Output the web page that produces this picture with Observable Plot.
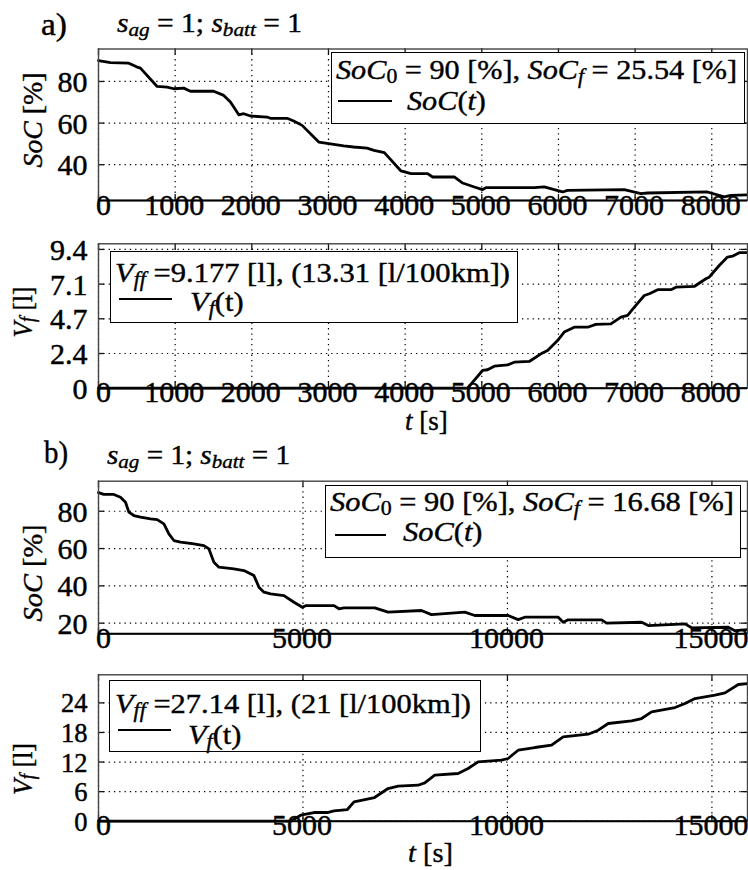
<!DOCTYPE html>
<html><head><meta charset="utf-8">
<script src="https://cdn.jsdelivr.net/npm/d3@7"></script>
<script src="https://cdn.jsdelivr.net/npm/@observablehq/plot@0.6"></script>
<style>
body{margin:0;background:#fff;}
#fig{position:relative;width:748px;height:870px;overflow:hidden;font-family:"Liberation Serif","Times New Roman",serif;color:#000;background:#fff;}
#fig svg{position:absolute;left:0;}
.ov{position:absolute;white-space:nowrap;line-height:1;-webkit-text-stroke:0.4px #000;}
.vt{writing-mode:vertical-rl;}
.leg{position:absolute;border:1.4px solid #000;background:#fff;box-sizing:border-box;}
.smp{position:absolute;border-top:2.8px solid #000;height:0;}
sub{font-size:0.72em;vertical-align:-0.22em;line-height:0;}
</style></head><body><div id="fig"></div><script>
// ---------- data ----------
const xTicksA = [0,1000,2000,3000,4000,5000,6000,7000,8000];
const xTicksB = [0,5000,10000,15000];
const socTicksA = [40,60,80];
const socTicksB = [20,40,60,80];
const vfTicksA = [0,2.35,4.7,7.05,9.4];
const vfTickLabelsA = ["0","2.4","4.7","7.1","9.4"];
const vfTicksB = [0,6,12,18,24];
const vfTickLabelsB = ["0","6","12","18","24"];

const tSocA = [0,156,395,504,547,765,895,982,1112,1199,1503,1634,1721,1830,1895,1982,2199,2242,2460,2547,2656,2873,3004,3199,3329,3503,3594,3729,3946,4076,4293,4358,4641,4750,4902,5010,5054,5684,5815,6053,6118,6858,7075,7162,7944,8162,8249,8466];
const socA = [90.0,89.1,88.8,86.9,86.4,77.6,77.3,76.5,76.8,75.3,75.3,73.3,70.1,64.0,64.5,63.4,62.9,62.3,62.3,61.0,58.9,50.9,50.1,49.0,48.5,48.0,46.9,45.8,37.0,35.7,35.7,34.1,34.1,31.2,29.3,28.0,29.0,29.0,29.3,26.9,27.7,28.0,26.1,26.4,26.9,24.5,25.3,25.54];

const tVfA = [0,4815,5010,5075,5163,5337,5424,5619,5772,5858,5988,6075,6206,6380,6488,6684,6815,6902,6990,7120,7186,7294,7468,7533,7771,7923,7966,8097,8205,8271,8358,8466];
const vfA = [0,0,1.20,1.25,1.49,1.58,1.76,1.81,2.33,2.55,3.23,3.80,4.13,4.13,4.32,4.36,4.81,4.93,5.49,6.28,6.40,6.67,6.67,6.84,6.89,7.41,7.52,8.31,8.88,8.94,9.18,9.18];

const tSocB = [0,130,374,538,661,742,864,1028,1273,1436,1599,1721,1843,2007,2333,2577,2700,2822,2944,3311,3556,3801,3923,4046,4209,4535,4780,4985,5066,5759,5881,6003,6755,7081,7897,8142,8957,9202,10017,10262,10426,11241,11363,11486,12302,12425,13281,13444,14342,14504,15400,15564,15870];
const socB = [90.0,89.0,89.0,87.5,84.8,79.5,77.7,76.8,75.9,75.5,73.2,67.9,64.3,63.4,62.5,61.6,59.8,52.7,50.0,49.1,48.2,45.5,39.3,36.6,35.7,34.8,31.2,28.5,29.4,29.4,27.7,28.2,28.2,25.9,26.8,24.6,25.9,24.1,24.1,21.9,23.2,23.2,20.5,21.8,21.8,20.0,20.5,18.7,19.6,17.5,17.8,16.0,16.5];

const tVfB = [0,4699,4944,5269,5597,5759,6087,6248,6750,7081,7326,7815,7978,8223,8794,9038,9283,9855,10017,10262,10670,11078,11363,11975,12220,12465,13036,13281,13525,14097,14342,14586,15076,15320,15646,15870];
const vfB = [0,0,1.22,1.76,1.76,2.09,2.37,3.91,4.80,6.63,7.10,7.30,7.77,9.33,9.68,10.69,12.03,12.37,12.72,14.40,14.95,15.42,17.10,17.65,18.46,19.82,20.34,20.83,22.19,23.06,23.87,24.89,25.56,26.03,27.73,27.93];

// ---------- drawing ----------
const fig = document.getElementById("fig");
const FONT = "'Liberation Serif', 'Times New Roman', serif";

function panel(o) {
  const data = o.t.map((d,i)=>({t:d, v:o.v[i]}));
  const innerH = o.frameBottom - o.frameTop;
  const innerW = 747 - 98;
  const yLab = o.yTicks.map((v,i)=>({v, label:o.yLabels[i]}));
  const grid = {stroke:"#000", strokeWidth:1.2, strokeDasharray:"1.3,4"};
  const tk = {stroke:"#111", strokeWidth:1.3};
  const lab = {fontSize:30, fill:"#000", stroke:"#000", strokeWidth:0.45};
  const ylab = {...lab, fontSize:o.yFont || 30};
  const p = Plot.plot({
    width:748, height:o.height,
    marginLeft:98, marginRight:1,
    marginTop:o.frameTop - o.top, marginBottom:o.top + o.height - o.frameBottom,
    style:{background:"transparent", fontFamily:FONT, color:"#000", overflow:"visible"},
    x:{domain:o.xDomain, axis:null},
    y:{domain:o.yDomain, axis:null},
    marks:[
      Plot.ruleX(o.xTicks, {x:d=>d, ...grid}),
      Plot.ruleY(o.yTicks, {y:d=>d, ...grid}),
      Plot.ruleX(o.xTicks, {x:d=>d, insetTop:innerH-6, ...tk}),
      Plot.ruleX(o.xTicks, {x:d=>d, insetBottom:innerH-6, ...tk}),
      Plot.ruleY(o.yTicks, {y:d=>d, insetRight:innerW-6, ...tk}),
      Plot.ruleY(o.yTicks, {y:d=>d, insetLeft:innerW-6, ...tk}),
      Plot.line(data, {x:"t", y:"v", stroke:"#000", strokeWidth:2.8, strokeLinejoin:"round"}),
      Plot.frame({stroke:"#444", strokeWidth:1.4}),
      Plot.ruleY([o.yDomain[0]], {y:d=>d, stroke:"#000", strokeWidth:2}),
      Plot.text(o.xTicks.slice(0,1), {x:d=>d, text:d=>String(d), frameAnchor:"bottom", dy:14, dx:5, ...lab}),
      Plot.text(o.xTicks.slice(1), {x:d=>d, text:d=>String(d), frameAnchor:"bottom", dy:14, dx:-1, ...lab}),
      Plot.text(yLab, {y:"v", text:"label", frameAnchor:"left", textAnchor:"end", dx:-11, dy:1, ...ylab})
    ]
  });
  p.style.top = o.top + "px";
  fig.appendChild(p);
}

panel({top:0, height:232, frameTop:48.5, frameBottom:200, t:tSocA, v:socA, xDomain:[0,8466], yDomain:[22.8,95.6], xTicks:xTicksA, yTicks:socTicksA, yLabels:socTicksA.map(String)});
panel({top:232, height:200, frameTop:243.3, frameBottom:387.7, t:tVfA, v:vfA, xDomain:[0,8466], yDomain:[0,9.78], xTicks:xTicksA, yTicks:vfTicksA, yLabels:vfTickLabelsA});
panel({top:432, height:234, frameTop:480.7, frameBottom:633.3, t:tSocB, v:socB, xDomain:[0,15870], yDomain:[14.3,96.1], xTicks:xTicksB, yTicks:socTicksB, yLabels:socTicksB.map(String)});
panel({top:666, height:204, frameTop:674.3, frameBottom:820.7, t:tVfB, v:vfB, xDomain:[0,15870], yDomain:[0,29.7], xTicks:xTicksB, yTicks:vfTicksB, yLabels:vfTickLabelsB, yFont:26.5});

// ---------- rich text overlays ----------
function txt(html, left, baseline, size, width) {
  const d = document.createElement("div");
  d.className = "ov"; d.innerHTML = html;
  d.style.fontSize = size + "px";
  d.style.left = left + "px";
  d.style.top = (baseline - 0.8375*size) + "px";
  fig.appendChild(d);
  let s = 1;
  if (width) { s = width / d.getBoundingClientRect().width; d.style.transformOrigin = "0 0"; d.style.transform = `scaleX(${s})`; }
  return s;
}
function vtxt(html, cx, cy, size, len) {
  const d = document.createElement("div");
  d.className = "ov vt"; d.innerHTML = html;
  d.style.fontSize = size + "px";
  d.style.left = cx + "px"; d.style.top = cy + "px";
  fig.appendChild(d);
  const s = len / d.getBoundingClientRect().height;
  d.style.transform = `translate(-50%,-50%) rotate(180deg) scaleY(${s})`;
}
function box(l, t, r, b) {
  const d = document.createElement("div");
  d.className = "leg";
  Object.assign(d.style, {left:l+"px", top:t+"px", width:(r-l)+"px", height:(b-t)+"px"});
  fig.appendChild(d);
}
function sample(x1, x2, y) {
  const d = document.createElement("div");
  d.className = "smp";
  Object.assign(d.style, {left:x1+"px", top:(y-1.4)+"px", width:(x2-x1)+"px"});
  fig.appendChild(d);
}
function legend(b, line1, w1, x1, base1, x2, base2, smp, line2) {
  box(...b);
  const s = txt(line1, x1, base1, 28, w1);
  sample(...smp);
  txt(line2, x2, base2, 28);
  fig.lastChild.style.transformOrigin = "0 0";
  fig.lastChild.style.transform = `scaleX(${s})`;
}

const title = '<i>s<sub>ag</sub></i> = 1; <i>s<sub>batt</sub></i> = 1';
txt('a)', 41, 35, 31, 26);
txt(title, 117, 33, 27, 185);
txt('b)', 44, 463, 31, 24);
txt(title, 107, 465, 27, 183);

vtxt('<i>SoC</i> [%]', 33, 120, 28, 95);
vtxt('<i>V<sub>f</sub></i> [l]', 23, 312, 28, 51);
vtxt('<i>SoC</i> [%]', 33, 573, 28, 97);
vtxt('<i>V<sub>f</sub></i> [l]', 23, 769, 28, 52);

txt('<i>t</i> [s]', 405, 431, 27);
txt('<i>t</i> [s]', 408, 863, 27, 45);

legend([331,52,745,124], '<i>SoC</i><sub>0</sub> = 90 [%], <i>SoC<sub>f</sub></i> = 25.54 [%]', 401, 336, 79, 407, 110, [338,392,101.7], '<i>SoC</i>(<i>t</i>)');
legend([110,250.7,518,323.3], '<i>V<sub>ff</sub></i> =9.177 [l], (13.31 [l/100km])', 395, 115, 282.7, 190, 311.7, [119,172,299.3], '<i>V<sub>f</sub></i>(t)');
legend([325,485,741,557.7], '<i>SoC</i><sub>0</sub> = 90 [%], <i>SoC<sub>f</sub></i> = 16.68 [%]', 404, 330, 511.7, 403, 541.5, [335,386,535], '<i>SoC</i>(<i>t</i>)');
legend([109.3,680,480.7,752.3], '<i>V<sub>ff</sub></i> =27.14 [l], (21 [l/100km])', 356, 115, 713.3, 188, 744, [118,171,730], '<i>V<sub>f</sub></i>(t)');
</script></body></html>
